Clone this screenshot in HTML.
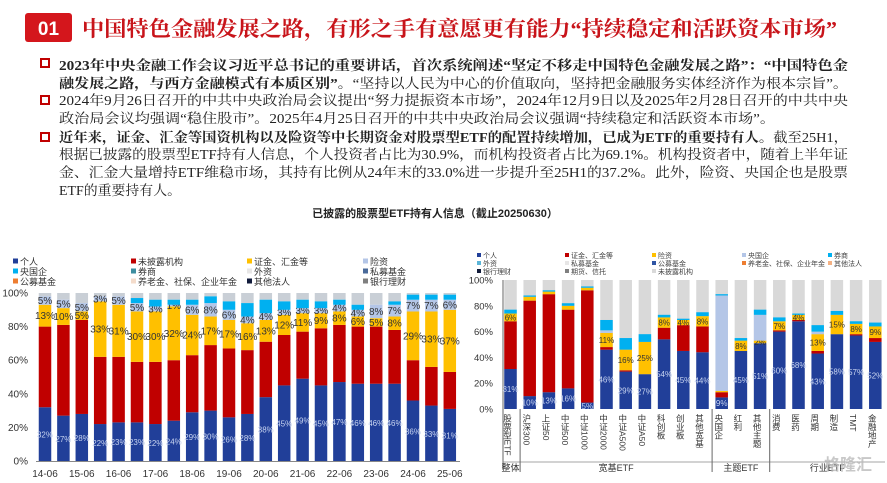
<!DOCTYPE html>
<html><head><meta charset="utf-8"><style>
html,body{margin:0;padding:0;background:#fff;width:887px;height:483px;overflow:hidden}
svg{display:block}
.cn{font-family:"Liberation Serif","Noto Serif CJK SC",serif}
.sans{font-family:"Liberation Sans","Noto Sans CJK SC",sans-serif}
</style></head><body>
<svg id="root" width="887" height="483" viewBox="0 0 887 483" xmlns="http://www.w3.org/2000/svg">
  <rect x="25" y="13" width="47" height="29" rx="3" fill="#d4161c"/>
  <text x="48.5" y="35" text-anchor="middle" class="sans" font-size="19" font-weight="bold" fill="#fff">01</text>
  <text x="82" y="36" class="cn" font-size="21" font-weight="bold" fill="#c8141a" textLength="755" lengthAdjust="spacingAndGlyphs">中国特色金融发展之路，有形之手有意愿更有能力“持续稳定和活跃资本市场”</text>

  <g class="cn" font-size="13.5" fill="#222">
    <rect x="41" y="59" width="8" height="8" fill="none" stroke="#c00000" stroke-width="2"/>
    <text x="59" y="70" font-weight="bold" textLength="789" lengthAdjust="spacingAndGlyphs">2023年中央金融工作会议习近平总书记的重要讲话，首次系统阐述“坚定不移走中国特色金融发展之路”：“中国特色金</text>
    <text x="59" y="88" textLength="789" lengthAdjust="spacingAndGlyphs"><tspan font-weight="bold">融发展之路，与西方金融模式有本质区别”</tspan>。“坚持以人民为中心的价值取向，坚持把金融服务实体经济作为根本宗旨”。</text>
    <rect x="41" y="96" width="8" height="8" fill="none" stroke="#c00000" stroke-width="2"/>
    <text x="59" y="105" textLength="789" lengthAdjust="spacingAndGlyphs">2024年9月26日召开的中共中央政治局会议提出“努力提振资本市场”，2024年12月9日以及2025年2月28日召开的中共中央</text>
    <text x="59" y="123" textLength="716" lengthAdjust="spacingAndGlyphs">政治局会议均强调“稳住股市”。2025年4月25日召开的中共中央政治局会议强调“持续稳定和活跃资本市场”。</text>
    <rect x="41" y="133" width="8" height="8" fill="none" stroke="#c00000" stroke-width="2"/>
    <text x="59" y="142" textLength="789" lengthAdjust="spacingAndGlyphs"><tspan font-weight="bold">近年来，证金、汇金等国资机构以及险资等中长期资金对股票型ETF的配置持续增加，已成为ETF的重要持有人</tspan>。截至25H1，</text>
    <text x="59" y="159" textLength="789" lengthAdjust="spacingAndGlyphs">根据已披露的股票型ETF持有人信息，个人投资者占比为30.9%，而机构投资者占比为69.1%。机构投资者中，随着上半年证</text>
    <text x="59" y="177" textLength="789" lengthAdjust="spacingAndGlyphs">金、汇金大量增持ETF维稳市场，其持有比例从24年末的33.0%进一步提升至25H1的37.2%。此外，险资、央国企也是股票</text>
    <text x="59" y="195" textLength="122" lengthAdjust="spacingAndGlyphs">ETF的重要持有人。</text>
  </g>
  <text x="435" y="217" text-anchor="middle" class="sans" font-size="11" font-weight="bold" fill="#222">已披露的股票型ETF持有人信息（截止20250630）</text>
  <g id="left"></g>
  <g id="right"></g>
  <text x="848" y="470" text-anchor="middle" class="sans" font-size="16" font-weight="bold" fill="#bbb" opacity="0.8">格隆汇</text>
</svg>
<script>
// ---------- Left chart data ----------
const leftCats = ["14-06","14-12","15-06","15-12","16-06","16-12","17-06","17-12","18-06","18-12","19-06","19-12","20-06","20-12","21-06","21-12","22-06","22-12","23-06","23-12","24-06","24-12","25-06"];
const leftPersonal = [32,27,28,22,23,23,22,24,29,30,26,28,38,45,49,45,47,46,46,46,36,33,31];
const leftUndisclosed = [48,54,56,40,39,36,37,36,34,39,41,38,33,30,28,34,34,34,34,32,24,23,22];
const leftZhengjin = [13,10,5,33,31,30,30,32,24,17,17,16,13,12,11,9,8,6,5,8,29,33,37];
const leftInsurance = [5,5,5,3,5,5,3,1,6,8,6,4,4,3,3,3,4,4,8,7,7,7,6];
const leftSoe = [0,0,0,0,0,3,4,3,3,4,5,8,8,5,5,4,3,3,0,2,3,3,3];
const leftTicks = ["0%","20%","40%","60%","80%","100%"];
const leftLegend = ["个人","未披露机构","证金、汇金等","险资","央国企","券商","外资","私募基金","公募基金","养老金、社保、企业年金","其他法人","银行理财"];
const leftLegendColors = ["#213f99","#c00000","#ffc000","#b4c6e7","#00b0f0","#3e8ea0","#e7e6e6","#4a6a9a","#ed7d31","#f4dccb","#101a3a","#7f7f7f"];

// ---------- Right chart data ----------
const rightCats = ["股票型ETF","沪深300","上证50","中证500","中证1000","中证2000","中证A500","中证A50","科创板","创业板","其他宽基","央国企","红利","其他主题","消费","医药","周期","制造","TMT","金融地产"];
const rightNavy = [31,10,13,16,5,46,29,27,54,45,44,9,45,51,60,68,43,58,57,52];
const rightRed = [37,74,76,61,87,2,1,0,9,20,20,4,0,0,1,1,2,0,1,3];
const rightYellow = [6,3,2,3,2,11,16,25,8,4,8,1,8,2,7,4,13,15,8,9];
const rightLightBlue = [0,0,0,0,0,2,0,0,0,0,0,74,0,20,0,0,2,0,0,0];
const rightCyan = [3,1,1,2,1,8,9,6,2,1,3,1,2,4,3,1,5,3,2,3];
const rightTicks = ["0%","20%","40%","60%","80%","100%"];
const rightGroups = ["整体","宽基ETF","主题ETF","行业ETF"];
const rightGroupStart = [0,1,11,14];
const rightGroupEnd = [0,10,13,19];
const rightLegend = ["个人","证金、汇金等","险资","央国企","券商","外资","私募基金","公募基金","养老金、社保、企业年金","其他法人","银行理财","期货、信托","未披露机构"];
const rightLegendColors = ["#213f99","#c00000","#ffc000","#b4c6e7","#00b0f0","#5bb5d8","#e7e6e6","#2f55a4","#ed7d31","#f4b183","#101a3a","#7f7f7f","#d9d9d9"];

const NS = "http://www.w3.org/2000/svg";
function mk(tag, attrs, parent){const e=document.createElementNS(NS,tag);for(const k in attrs)e.setAttribute(k,attrs[k]);parent.appendChild(e);return e;}
const FONT='"Liberation Sans","Noto Sans CJK SC",sans-serif';

// ---------- Left chart ----------
(function(){
  const g=document.getElementById('left');
  const y0=461,y1=293,x0=36,step=18.4,bw=12.5,first=45;
  const yS=v=>y0-(y0-y1)*v/100;
  const xS=i=>first+i*step;
  leftTicks.forEach((t,i)=>{
    const tx=mk('text',{x:28,y:yS(i*20)+3.5,'text-anchor':'end','font-size':10,fill:'#333','font-family':FONT},g);
    
    
    tx.textContent=t;
  });
  const ax=mk('line',{x1:x0,y1:y0+0.5,x2:460,y2:y0+0.5,stroke:'#888','stroke-width':1},g);
  
  
  leftCats.forEach((c,i)=>{
    const segs=[leftPersonal[i],leftUndisclosed[i],leftZhengjin[i],leftInsurance[i],leftSoe[i]];
    const cols=["#213f99","#c00000","#ffc000","#b4c6e7","#00b0f0"];
    const names=["personal","undisclosed","zhengjin","insurance","soe"];
    let acc=0;
    const sum=segs.reduce((a,b)=>a+b,0);
    const rest=mk('rect',{x:xS(i)-bw/2,y:yS(100),width:bw,height:yS(sum)-yS(100),fill:'#c9cfd6'},g);
    
    
    segs.forEach((v,k)=>{
      const r=mk('rect',{x:xS(i)-bw/2,y:yS(acc+v),width:bw,height:yS(acc)-yS(acc+v),fill:cols[k]},g);
      
      
      if(k===0||k===2||k===3){
        if(v>0){
          const t=mk('text',{x:xS(i),y:yS(acc+v/2)+3.5,'text-anchor':'middle','font-size':k===0?8:10,fill:k===0?'#c8d4f0':'#333','font-family':FONT},g);
          
          
          t.textContent=v+'%';
        }
      }
      acc+=v;
    });
    if(i%2===0){
      const t=mk('text',{x:xS(i),y:477,'text-anchor':'middle','font-size':10,fill:'#333','font-family':FONT},g);
      
      
      t.textContent=c;
    }
  });
  leftLegend.forEach((n,i)=>{
    const col=i%4,row=Math.floor(i/4);
    const lx=[13,131,247,363][col],ly=262+row*10;
    const r=mk('rect',{x:lx,y:ly-3.5,width:5,height:5,fill:leftLegendColors[i]},g);
    
    
    const t=mk('text',{x:lx+7,y:ly+3,'font-size':9,fill:'#333','font-family':FONT},g);
    
    
    t.textContent=n;
  });
})();

// ---------- Right chart ----------
(function(){
  const g=document.getElementById('right');
  const y0=409,y1=280,first=510.5,step=19.2,bw=12.5;
  const yS=v=>y0-(y0-y1)*v/100;
  const xS=i=>first+i*step;
  rightTicks.forEach((t,i)=>{
    const tx=mk('text',{x:493,y:yS(i*20)+3.5,'text-anchor':'end','font-size':9.5,fill:'#333','font-family':FONT},g);
    
    
    tx.textContent=t;
  });
  const ay=mk('line',{x1:503,y1:y1,x2:503,y2:470,stroke:'#666','stroke-width':1},g);
  
  
  const hl=mk('line',{x1:503,y1:462,x2:885,y2:462,stroke:'#888','stroke-width':0.8},g);
  
  
  rightCats.forEach((c,i)=>{
    const segs=[rightNavy[i],rightRed[i],rightYellow[i],rightLightBlue[i],rightCyan[i]];
    const cols=["#213f99","#c00000","#ffc000","#b4c6e7","#00b0f0"];
    const names=["personal","zhengjin","insurance","soe","broker"];
    const rest=mk('rect',{x:xS(i)-bw/2,y:yS(100),width:bw,height:yS(0)-yS(100),fill:'#d9d9d9'},g);
    
    
    let acc=0;
    segs.forEach((v,k)=>{
      const r=mk('rect',{x:xS(i)-bw/2,y:yS(acc+v),width:bw,height:yS(acc)-yS(acc+v),fill:cols[k]},g);
      
      
      if(k===0||(k===2&&v>=2&&rightRed[i]<50)){
        const t=mk('text',{x:xS(i),y:yS(acc+v/2)+3,'text-anchor':'middle','font-size':8,fill:k===0?'#c8d4f0':'#333','font-family':FONT},g);
        
        
        t.textContent=v+'%';
      }
      acc+=v;
    });
    const t=mk('text',{x:xS(i)-3,y:414,'font-size':8.5,fill:'#333','font-family':FONT},g);
    
    
    t.setAttribute('style','writing-mode:vertical-rl');
    t.textContent=c;
  });
  rightGroups.forEach((n,i)=>{
    const cx=(xS(rightGroupStart[i])+xS(rightGroupEnd[i]))/2;
    const t=mk('text',{x:cx,y:471,'text-anchor':'middle','font-size':9,fill:'#333','font-family':FONT},g);
    
    
    t.textContent=n;
    if(i<rightGroups.length-1){
      const sx=(xS(rightGroupEnd[i])+xS(rightGroupStart[i+1]))/2;
      const l=mk('line',{x1:sx,y1:409,x2:sx,y2:472,stroke:'#666','stroke-width':1},g);
      
      
    }
  });
  rightLegend.forEach((n,i)=>{
    const col=i%5,row=Math.floor(i/5);
    const lx=[477,565,652,742,828][col],ly=256+row*8;
    const r=mk('rect',{x:lx,y:ly-3,width:4,height:4,fill:rightLegendColors[i]},g);
    
    
    const t=mk('text',{x:lx+6,y:ly+2,'font-size':7,fill:'#444','font-family':FONT},g);
    
    
    t.textContent=n;
  });
})();
</script>
</body></html>
